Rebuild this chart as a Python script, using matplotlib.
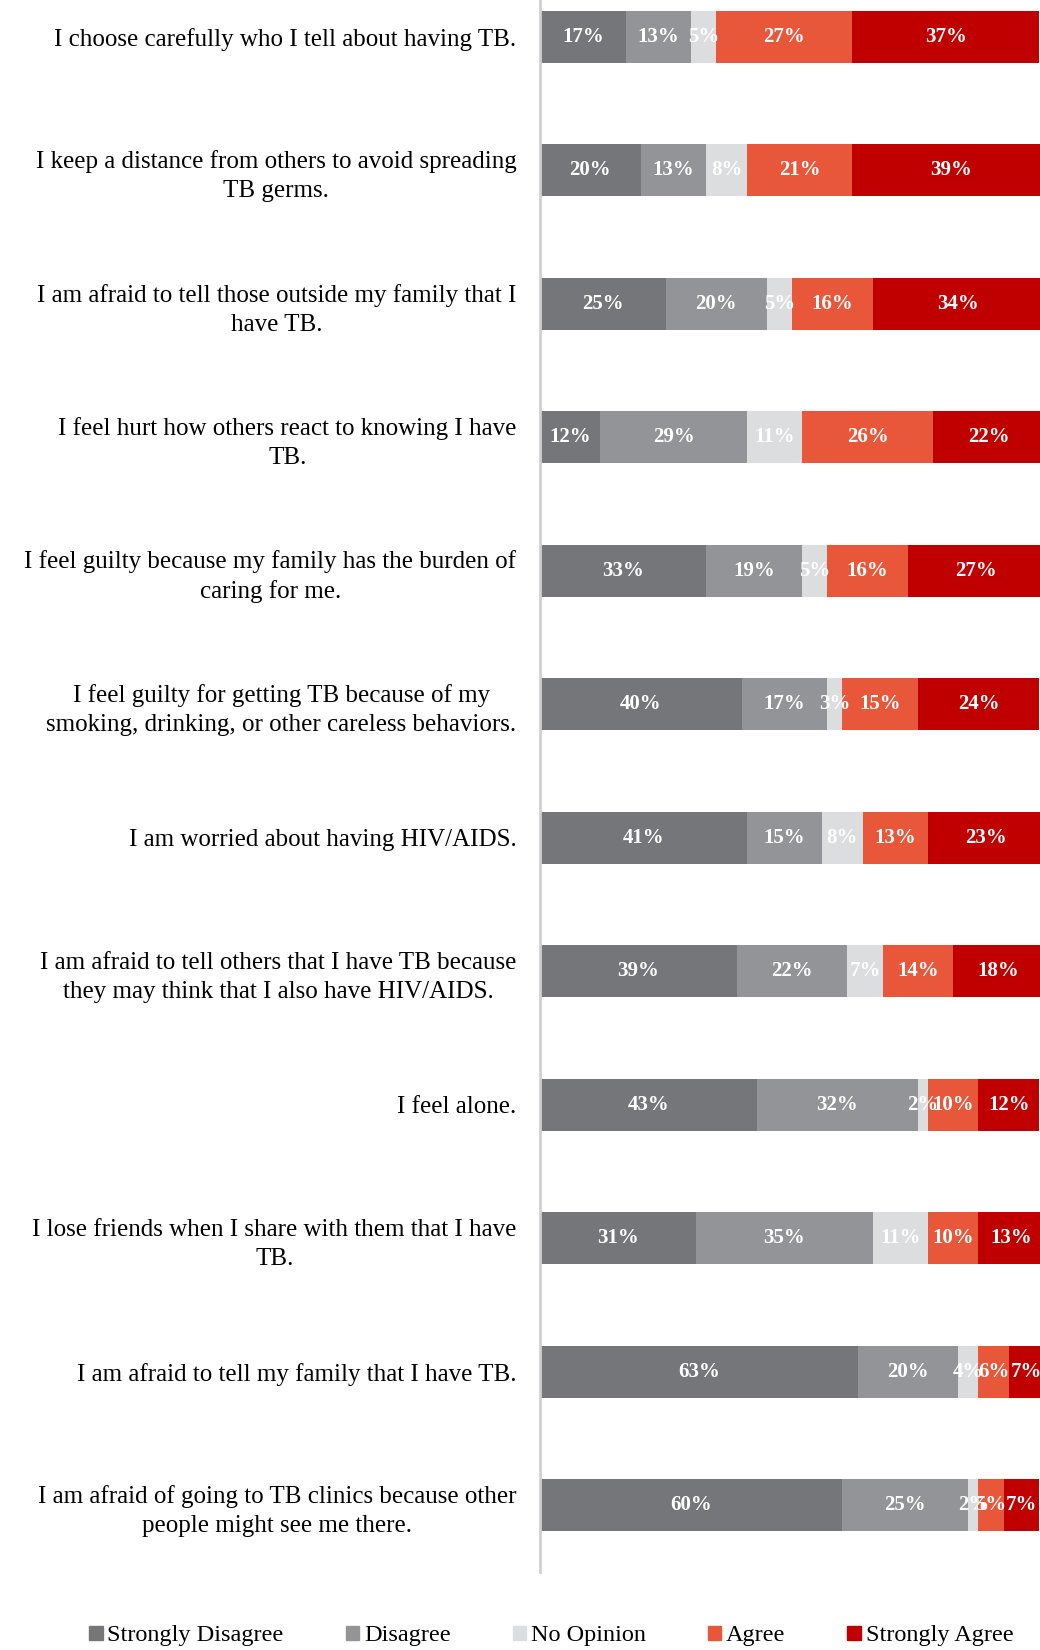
import numpy as np
import matplotlib.pyplot as plt
from matplotlib.patches import Patch

statements = [
    "I choose carefully who I tell about having TB.",
    "I keep a distance from others to avoid spreading\nTB germs.",
    "I am afraid to tell those outside my family that I\nhave TB.",
    "I feel hurt how others react to knowing I have\nTB.",
    "I feel guilty because my family has the burden of\ncaring for me.",
    "I feel guilty for getting TB because of my\nsmoking, drinking, or other careless behaviors.",
    "I am worried about having HIV/AIDS.",
    "I am afraid to tell others that I have TB because\nthey may think that I also have HIV/AIDS.",
    "I feel alone.",
    "I lose friends when I share with them that I have\nTB.",
    "I am afraid to tell my family that I have TB.",
    "I am afraid of going to TB clinics because other\npeople might see me there.",
]

responses = ["Strongly Disagree", "Disagree", "No Opinion", "Agree", "Strongly Agree"]

strongly_disagree = [17, 20, 25, 12, 33, 40, 41, 39, 43, 31, 63, 60]
disagree          = [13, 13, 20, 29, 19, 17, 15, 22, 32, 35, 20, 25]
no_opinion        = [5, 8, 5, 11, 5, 3, 8, 7, 2, 11, 4, 2]
agree             = [27, 21, 16, 26, 16, 15, 13, 14, 10, 10, 6, 5]
strongly_agree    = [37, 39, 34, 22, 27, 24, 23, 18, 12, 13, 7, 7]

colors = ["#75767a", "#929497", "#dcdddf", "#e8573a", "#c00000"]

plt.rcParams['font.family'] = ['Liberation Serif', 'DejaVu Serif']

fig = plt.figure(figsize=(10.4, 16.5), dpi=100)
W, H = 1040, 1650
# axes runs a little past the top and right edges of the figure
ax = fig.add_axes([540 / W, 78 / H, 504 / W, 1602 / H])

data = np.array([strongly_disagree, disagree, no_opinion, agree, strongly_agree])
y = np.arange(len(statements))
left = np.zeros(len(statements))
for vals, col, name in zip(data, colors, responses):
    bars = ax.barh(y, vals, left=left, height=0.39, color=col, label=name)
    for b, v in zip(bars, vals):
        ax.text(b.get_x() + b.get_width() / 2, b.get_y() + b.get_height() / 2,
                f"{v}%", ha='center', va='center', color='white',
                fontsize=15, fontweight='bold')
    left += vals

ax.set_xlim(0, 100)
ax.set_ylim(len(statements) - 0.5, -0.5)
ax.set_yticks(y)
ax.set_yticklabels(statements, fontsize=18)
for t in ax.get_yticklabels():
    t.set_multialignment('center')
    t.set_linespacing(1.4)
ax.tick_params(axis='y', length=0, pad=17)
ax.set_xticks([])
for s in ['top', 'right', 'bottom']:
    ax.spines[s].set_visible(False)
ax.spines['left'].set_color('#d0d0d0')
ax.spines['left'].set_linewidth(2)

handles = [Patch(color=c, label=n) for c, n in zip(colors, responses)]
fig.legend(handles=handles, loc='center', bbox_to_anchor=(0.53, 14 / H),
           ncol=5, frameon=False, fontsize=17.5,
           handlelength=0.55, handleheight=0.55, handletextpad=0.2, columnspacing=2.55)

fig.savefig("out.png", dpi=100)
